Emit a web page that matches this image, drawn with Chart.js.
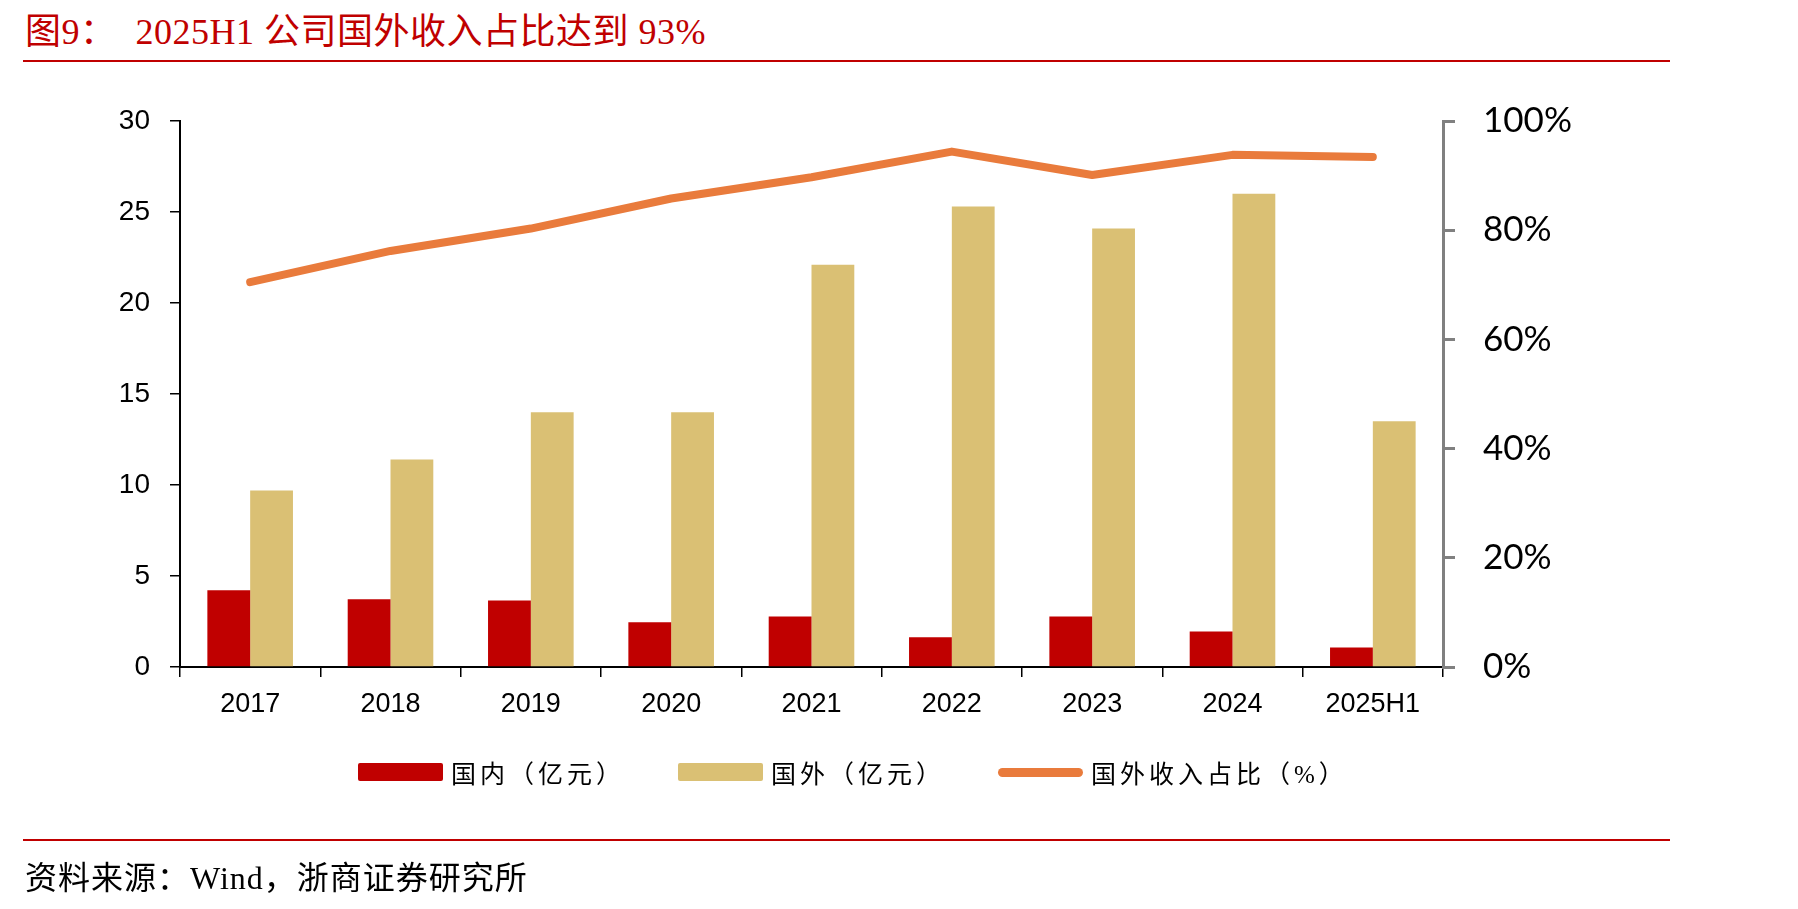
<!DOCTYPE html>
<html>
<head>
<meta charset="utf-8">
<script src="https://cdn.jsdelivr.net/npm/chart.js@4/dist/chart.umd.min.js"></script>
<style>
  body { margin: 0; background: #fff; width: 1798px; height: 909px; position: relative; overflow: hidden; }
  #chart { position: absolute; left: 0; top: 0; }
  .serif { font-family: "Liberation Serif", "Noto Sans CJK SC", serif; }
  #title { position: absolute; left: 25px; top: 2px; font-size: 36px; color: #C00000; white-space: pre; letter-spacing: 0.5px; }
  .rule { position: absolute; left: 23px; width: 1647px; height: 2px; background: #C00000; }
  #source { position: absolute; left: 25px; top: 852px; font-size: 32px; color: #000; white-space: pre; letter-spacing: 1px; }
  .leg { position: absolute; top: 756px; height: 32px; display: flex; align-items: center; font-size: 25px; letter-spacing: 4px; color: #000; }
  .swatch { width: 85px; height: 18px; margin-right: 8px; border-radius: 2px; }
  .lineswatch { width: 85px; height: 9px; margin-right: 8px; border-radius: 5px; background: #E97B3C; }
</style>
</head>
<body>
<div id="title" class="serif">图9：  2025H1 公司国外收入占比达到 93%</div>
<div class="rule" style="top:60px"></div>
<canvas id="chart" width="1798" height="909"></canvas>
<div class="leg serif" style="left:358px"><div class="swatch" style="background:#C00000"></div>国内（亿元）</div>
<div class="leg serif" style="left:678px"><div class="swatch" style="background:#DAC074"></div>国外（亿元）</div>
<div class="leg serif" style="left:998px"><div class="lineswatch"></div>国外收入占比（%）</div>
<div class="rule" style="top:839px"></div>
<div id="source" class="serif">资料来源：Wind，浙商证券研究所</div>
<script>
const categories = ['2017', '2018', '2019', '2020', '2021', '2022', '2023', '2024', '2025H1'];
const domestic = [4.22, 3.72, 3.65, 2.46, 2.77, 1.64, 2.77, 1.95, 1.07];
const overseas = [9.70, 11.4, 14.0, 14.0, 22.1, 25.3, 24.1, 26.0, 13.5];
const overseasShare = [70.5, 76.2, 80.3, 85.8, 89.7, 94.4, 90.1, 93.8, 93.4];
const leftTicks = [0, 5, 10, 15, 20, 25, 30];
const rightTicks = [0, 20, 40, 60, 80, 100];

const ctx = document.getElementById('chart').getContext('2d');
new Chart(ctx, {
    data: {
        labels: categories,
        datasets: [
            {
                type: 'line',
                label: '国外收入占比（%）',
                data: overseasShare,
                yAxisID: 'y1',
                borderColor: '#E97B3C',
                borderWidth: 8,
                borderCapStyle: 'round',
                borderJoinStyle: 'round',
                pointRadius: 0,
                tension: 0,
                order: 0
            },
            {
                type: 'bar',
                label: '国内（亿元）',
                data: domestic,
                yAxisID: 'y',
                backgroundColor: '#C00000',
                categoryPercentage: 0.61,
                barPercentage: 1.0,
                order: 1
            },
            {
                type: 'bar',
                label: '国外（亿元）',
                data: overseas,
                yAxisID: 'y',
                backgroundColor: '#DAC074',
                categoryPercentage: 0.61,
                barPercentage: 1.0,
                order: 1
            }
        ]
    },
    options: {
        responsive: false,
        animation: false,
        layout: { padding: { top: 121, left: 0, right: 0, bottom: 0 } },
        plugins: { legend: { display: false }, tooltip: { enabled: false } },
        scales: {
            x: {
                offset: true,
                grid: { offset: true, drawOnChartArea: false, drawTicks: true, tickLength: 10, color: '#000', lineWidth: 1.5 },
                border: { display: true, color: '#000', width: 2 },
                ticks: { color: '#000', padding: 11, font: { family: 'Liberation Sans', size: 27 } },
                afterFit: (scale) => { scale.height = 909 - 667; }
            },
            y: {
                position: 'left',
                min: 0,
                max: 30,
                afterBuildTicks: (scale) => { scale.ticks = leftTicks.map(v => ({ value: v })); },
                grid: { drawOnChartArea: false, drawTicks: true, tickLength: 10, color: '#000', lineWidth: 1.5 },
                border: { display: true, color: '#000', width: 2 },
                ticks: { color: '#000', padding: 20, font: { family: 'Liberation Sans', size: 28 } },
                afterFit: (scale) => { scale.width = 180; }
            },
            y1: {
                position: 'right',
                min: 0,
                max: 100,
                afterBuildTicks: (scale) => { scale.ticks = rightTicks.map(v => ({ value: v })); },
                grid: { drawOnChartArea: false, drawTicks: true, tickLength: 12, color: '#808080', lineWidth: 3 },
                border: { display: true, color: '#808080', width: 3 },
                ticks: { color: '#000', padding: 28, font: { family: 'Lato', size: 35 }, callback: (v) => v + '%' },
                afterFit: (scale) => { scale.width = 1798 - 1443; }
            }
        }
    }
});
</script>
</body>
</html>
